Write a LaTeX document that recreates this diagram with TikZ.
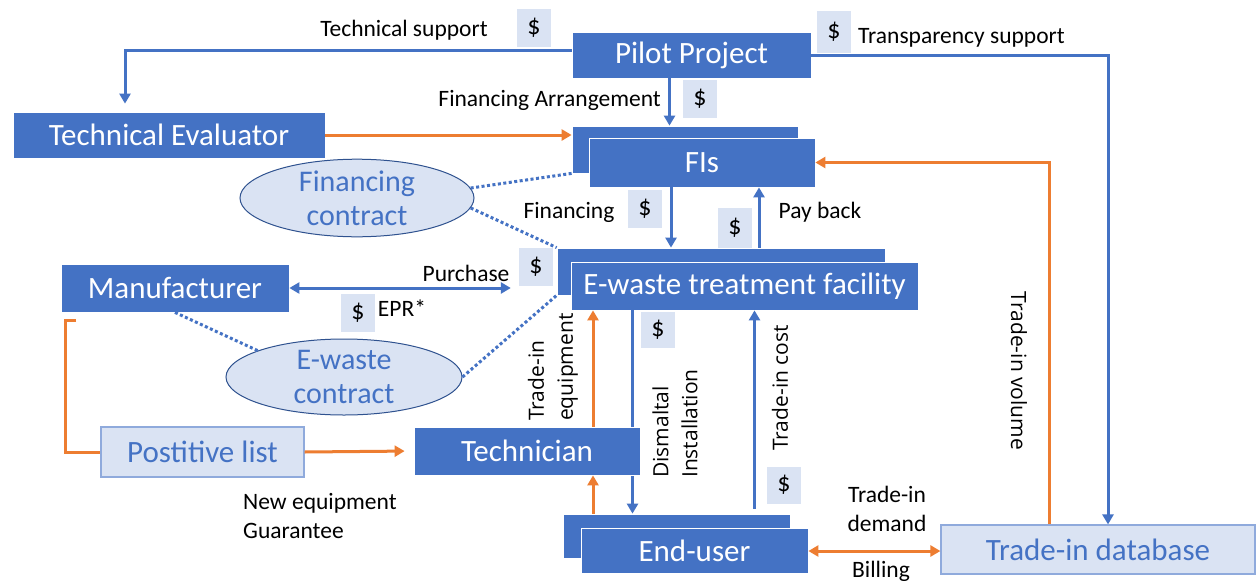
\documentclass[tikz,border=0pt]{standalone}
\usepackage{fontspec}
\setmainfont{Carlito}
\newfontfamily\sidefont{Open Sans}
\usetikzlibrary{positioning,shapes,arrows.meta}

\definecolor{boxblue}{HTML}{4472C4}
\definecolor{paleblue}{HTML}{DAE3F3}
\definecolor{edgeblue}{HTML}{8FAADC}
\definecolor{darkblue}{HTML}{2F528F}
\definecolor{flow}{HTML}{ED7D31}

\begin{document}
\begin{tikzpicture}[x=1pt, y=-1pt]
    \tikzset{
        box/.style = {rectangle, fill=boxblue, draw=white, line width=0.8pt, text=white, inner sep=2pt, font=\fontsize{31}{35}\selectfont},
        listbox/.style = {rectangle, fill=paleblue, draw=edgeblue, line width=1.2pt, text=boxblue, inner sep=2pt, font=\fontsize{31}{35}\selectfont},
        contract/.style = {ellipse, fill=paleblue, draw=darkblue, line width=1pt, text=boxblue, align=center, inner sep=0pt, font=\fontsize{30}{34}\selectfont},
        money/.style = {rectangle, fill=paleblue, minimum width=34pt, minimum height=38pt, inner sep=0pt, font=\fontsize{26}{28}\selectfont},
        txt/.style = {inner sep=0pt, font=\fontsize{23.5}{29}\selectfont},
        sidelabel/.style = {inner sep=0pt, align=left, font=\sidefont\fontsize{21}{29}\selectfont},
        barrow/.style = {draw=boxblue, line width=3pt, -{Triangle[length=10pt,width=11pt]}},
        bboth/.style = {draw=boxblue, line width=3pt, {Triangle[length=10pt,width=11pt]}-{Triangle[length=10pt,width=11pt]}},
        oarrow/.style = {draw=flow, line width=3pt, -{Triangle[length=10pt,width=11pt]}},
        oboth/.style = {draw=flow, line width=3pt, {Triangle[length=10pt,width=11pt]}-{Triangle[length=10pt,width=11pt]}},
        oline/.style = {draw=flow, line width=3pt},
        dotline/.style = {draw=boxblue, line width=3pt, dash pattern=on 3pt off 2.5pt}
    }
    \useasboundingbox[fill=white] (0,0) rectangle (1256,581);

    \node (pilot) [box, minimum width=239pt, minimum height=46pt] at (691.5,55) {Pilot Project};
    \node (techeval) [box, minimum width=312pt, minimum height=46pt] at (169,135) {Technical Evaluator};
    \node (fiback) [box, minimum width=226pt, minimum height=47pt] at (685,149.5) {};
    \node (fis) [box, minimum width=226pt, minimum height=49pt] at (702,162.5) {FIs};
    \node (finctr) [contract, minimum width=234pt, minimum height=76pt] at (357,198) {Financing\\contract};
    \node (ewback) [box, minimum width=328pt, minimum height=47pt] at (721,271.5) {};
    \node (ewaste) [box, minimum width=347pt, minimum height=48pt] at (744.5,286) {E-waste treatment facility};
    \node (manu) [box, minimum width=228pt, minimum height=48pt] at (175,288) {Manufacturer};
    \node (ewctr) [contract, minimum width=236pt, minimum height=76pt] at (344,377) {E-waste\\contract};
    \node (poslist) [listbox, minimum width=203pt, minimum height=50pt] at (202.5,452) {Postitive list};
    \node (euback) [box, minimum width=227pt, minimum height=44pt] at (676.5,536) {};
    \node (enduser) [box, minimum width=227pt, minimum height=45pt] at (694.5,551) {End-user};
    \node (tradedb) [listbox, minimum width=314pt, minimum height=49pt] at (1098,549.5) {Trade-in database};

    % runs behind the technician box
    \draw [barrow] ([xshift=-112pt]ewaste.south) -- ([xshift=-112pt]ewaste.south |- euback.north);
    \node (tech) [box, minimum width=226pt, minimum height=48pt] at (527,451) {Technician};

    \node (dsupport) [money] at (534,28) {\$};
    \node (dtransp) [money, minimum height=42pt] at (834,32) {\$};
    \node (darrange) [money] at (700,99) {\$};
    \node (dfinance) [money] at (645,209) {\$};
    \node (dpayback) [money, minimum height=40pt] at (735,228) {\$};
    \node (dpurchase) [money] at (536,267) {\$};
    \node (depr) [money] at (358,313) {\$};
    \node (ddismantle) [money, minimum height=36pt] at (658,330) {\$};
    \node (dcost) [money, minimum height=37pt] at (784,485) {\$};

    \node (ltechsup) [txt] at (404,30) {Technical support};
    \node (ltransp) [txt, anchor=west] at (858,38) {Transparency support};
    \node (larrange) [txt, anchor=east] at (661,100) {Financing Arrangement};
    \node (lfinance) [txt] at (569,212) {Financing};
    \node (lpayback) [txt] at (820,212) {Pay back};
    \node (lpurchase) [txt] at (466,273) {Purchase};
    \node (lepr) [txt] at (402,308) {EPR*};
    \node (lnewequip) [txt, align=left, anchor=west] at (243,516) {New equipment\\Guarantee};
    \node (ldemand) [txt, align=center] at (887,509) {Trade-in\\demand};
    \node (lbilling) [txt] at (881,571) {Billing};
    \node (lequip) [sidelabel, rotate=90, anchor=west] at (553,421) {Trade-in\\equipment};
    \node (ldismantle) [sidelabel, rotate=90, anchor=west] at (675,478) {Dismaltal\\Installation};
    \node (lcost) [sidelabel, rotate=90] at (780,388) {Trade-in cost};
    \node (lvolume) [sidelabel, rotate=-90] at (1019,371) {Trade-in volume};

    \draw [barrow, shorten >=8pt] ([yshift=5pt]pilot.west) -| ([xshift=-44pt]techeval.north);
    \draw [barrow] (pilot.east) -| ([xshift=10pt]tradedb.north);
    \draw [barrow] ([xshift=-22pt]pilot.south) -- ([xshift=-22pt]pilot.south |- fiback.north);
    \draw [oarrow] (techeval.east) -- (techeval.east -| fiback.west);
    \draw [oarrow] ([xshift=-49pt]tradedb.north) |- (fis.east);
    \draw [barrow] ([xshift=-31pt]fis.south) -- ([xshift=-31pt]fis.south |- ewback.north);
    \draw [barrow] ([xshift=57pt]fis.south |- ewback.north) -- ([xshift=57pt]fis.south);

    \draw [dotline] (finctr.5) -- (fiback.south west);
    \draw [dotline] (finctr.-5) -- (ewback.north west);
    \draw [dotline] (manu.south) -- (ewctr.163);
    \draw [dotline] (ewctr.east) -- (ewback.south west);

    \draw [bboth, shorten >=8pt] (manu.east) -- (manu.east -| dpurchase.west);

    \coordinate (bracket) at (76,320);
    \draw [oline] (bracket) -- ++(-11,0) |- (poslist.west);
    \draw [oarrow, shorten >=9pt] (poslist.east) -- (tech.west);

    \draw [oarrow] ([xshift=66pt]tech.north) -- ([xshift=66pt]tech.north |- ewaste.south);
    \draw [oarrow] ([xshift=66pt]tech.south |- euback.north) -- ([xshift=66pt]tech.south);
    \draw [barrow, shorten <=5pt] ([xshift=10pt]ewaste.south |- euback.north) -- ([xshift=10pt]ewaste.south);
    \draw [oboth] (enduser.east) -- (enduser.east -| tradedb.west);
\end{tikzpicture}
\end{document}
